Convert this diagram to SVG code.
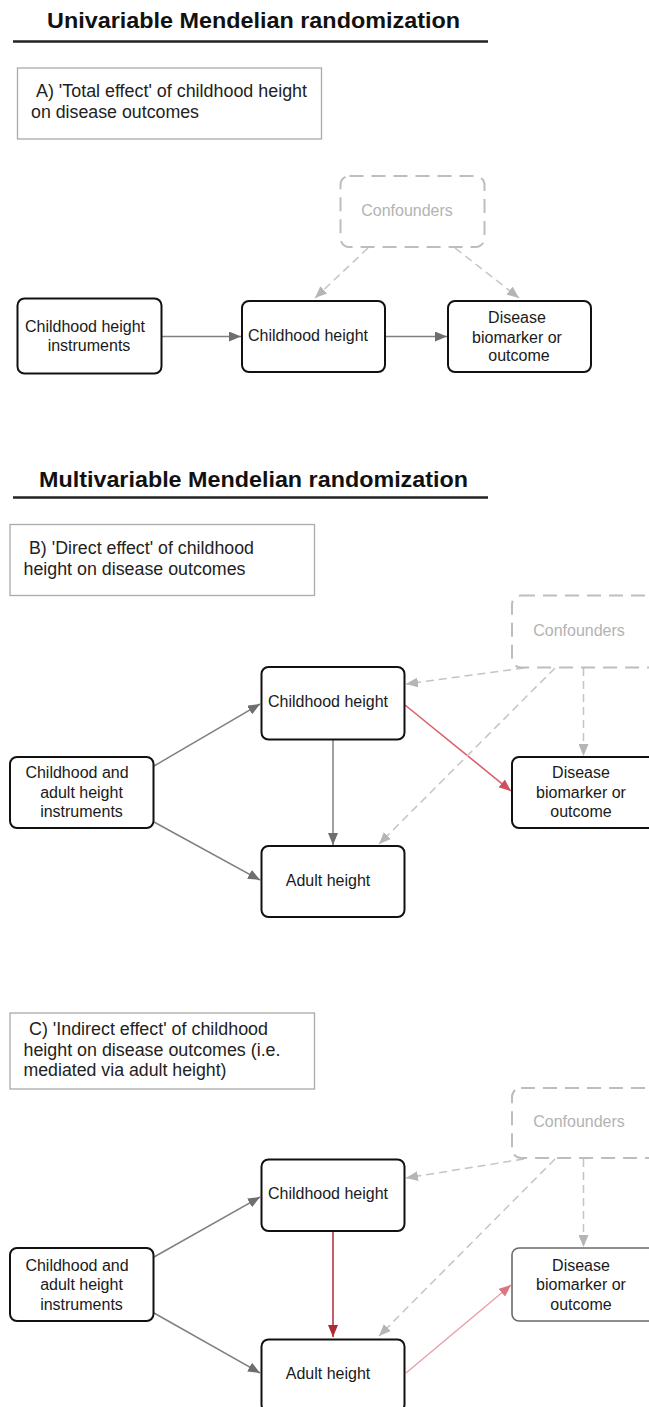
<svg xmlns="http://www.w3.org/2000/svg" width="649" height="1407" viewBox="0 0 649 1407">
<defs>
<style>
.title{font-family:"Liberation Sans",Arial,sans-serif;font-weight:bold;font-size:22px;fill:#111}
.rule{stroke:#222;stroke-width:2.5}
.cap{fill:#fff;stroke:#aaa;stroke-width:1.3}
.capt{font-family:"Liberation Sans",Arial,sans-serif;font-size:17.5px;fill:#222}
.node{fill:#fff;stroke:#111;stroke-width:2}
.nodeg{fill:#fff;stroke:#6a6a6a;stroke-width:1.6}
.conf{fill:#fff;stroke:#bdbdbd;stroke-width:2;stroke-dasharray:14 8}
.lab{font-family:"Liberation Sans",Arial,sans-serif;font-size:16px;fill:#1a1a1a;text-anchor:middle}
.labg{font-family:"Liberation Sans",Arial,sans-serif;font-size:16px;fill:#b3b3b3;text-anchor:middle}
.sol{fill:none;stroke:#808080;stroke-width:1.5;marker-end:url(#ag)}
.dash{fill:none;stroke:#c4c4c4;stroke-width:1.5;stroke-dasharray:8 5;marker-end:url(#al)}
.red{fill:none;stroke:#d9606d;stroke-width:1.6;marker-end:url(#ar)}
.redd{fill:none;stroke:#b83541;stroke-width:1.6;marker-end:url(#ard)}
.redl{fill:none;stroke:#e6a0a6;stroke-width:1.4;marker-end:url(#arl)}
</style>
<marker id="ag" viewBox="0 0 12 10" refX="12" refY="5" markerWidth="12" markerHeight="10" markerUnits="userSpaceOnUse" orient="auto"><path d="M0,0 L12,5 L0,10 z" fill="#6e6e6e"/></marker>
<marker id="al" viewBox="0 0 12 10" refX="12" refY="5" markerWidth="12" markerHeight="10" markerUnits="userSpaceOnUse" orient="auto"><path d="M0,0 L12,5 L0,10 z" fill="#b5b5b5"/></marker>
<marker id="ar" viewBox="0 0 12 10" refX="12" refY="5" markerWidth="12" markerHeight="10" markerUnits="userSpaceOnUse" orient="auto"><path d="M0,0 L12,5 L0,10 z" fill="#d24f5d"/></marker>
<marker id="ard" viewBox="0 0 12 10" refX="12" refY="5" markerWidth="12" markerHeight="10" markerUnits="userSpaceOnUse" orient="auto"><path d="M0,0 L12,5 L0,10 z" fill="#b02a36"/></marker>
<marker id="arl" viewBox="0 0 12 10" refX="12" refY="5" markerWidth="12" markerHeight="10" markerUnits="userSpaceOnUse" orient="auto"><path d="M0,0 L12,5 L0,10 z" fill="#dc7580"/></marker>
</defs>
<rect width="649" height="1407" fill="#fff"/>

<!-- Headings -->
<g id="heading-univariable">
<text class="title" x="47" y="28" textLength="413" lengthAdjust="spacingAndGlyphs">Univariable Mendelian randomization</text>
<line class="rule" x1="13" y1="41.5" x2="488" y2="41.5"/>
</g>
<g id="heading-multivariable">
<text class="title" x="39" y="486.5" textLength="429" lengthAdjust="spacingAndGlyphs">Multivariable Mendelian randomization</text>
<line class="rule" x1="13" y1="497.5" x2="488" y2="497.5"/>
</g>

<!-- Captions -->
<g id="caption-a">
<rect class="cap" x="17.5" y="68" width="304" height="71"/>
<text class="capt" x="36" y="97" textLength="271" lengthAdjust="spacingAndGlyphs">A) 'Total effect' of childhood height</text>
<text class="capt" x="31" y="118" textLength="168" lengthAdjust="spacingAndGlyphs">on disease outcomes</text>
</g>
<g id="caption-b">
<rect class="cap" x="10" y="524.5" width="304.5" height="71"/>
<text class="capt" x="29" y="554" textLength="225" lengthAdjust="spacingAndGlyphs">B) 'Direct effect' of childhood</text>
<text class="capt" x="23.5" y="574.5" textLength="222" lengthAdjust="spacingAndGlyphs">height on disease outcomes</text>
</g>
<g id="caption-c">
<rect class="cap" x="10" y="1013" width="304.5" height="76"/>
<text class="capt" x="29" y="1035" textLength="239" lengthAdjust="spacingAndGlyphs">C) 'Indirect effect' of childhood</text>
<text class="capt" x="23.5" y="1055.5" textLength="257" lengthAdjust="spacingAndGlyphs">height on disease outcomes (i.e.</text>
<text class="capt" x="23.5" y="1076" textLength="203" lengthAdjust="spacingAndGlyphs">mediated via adult height)</text>
</g>

<!-- Connectors -->
<g id="connectors">
<!-- Panel A -->
<path class="sol" d="M161.5,336.5 L241,336.5"/>
<path class="sol" d="M385,336.5 L447,336.5"/>
<path class="dash" d="M368,248 L315,298"/>
<path class="dash" d="M455,248 L519,298"/>
<!-- Panel B -->
<path class="sol" d="M154,766 L260,704"/>
<path class="sol" d="M154,822 L260,880"/>
<path class="sol" d="M333,740 L333,845"/>
<path class="red" d="M405,705 L511,791"/>
<path class="dash" d="M524,668 L406,684"/>
<path class="dash" d="M555,668 L379,844"/>
<path class="dash" d="M583.5,668 L583.5,756"/>
<!-- Panel C -->
<path class="sol" d="M154,1257 L260,1197"/>
<path class="sol" d="M154,1313 L260,1373"/>
<path class="redd" d="M333,1231 L333,1337"/>
<path class="redl" d="M406,1373 L511,1285"/>
<path class="dash" d="M524,1159 L406,1178"/>
<path class="dash" d="M555,1159 L379,1336"/>
<path class="dash" d="M583.5,1159 L583.5,1247"/>
</g>

<!-- Panel A nodes -->
<g id="a-confounders">
<rect class="conf" x="340.5" y="176" width="144" height="71" rx="9"/>
<text class="labg" x="407" y="216">Confounders</text>
</g>
<g id="a-instruments">
<rect class="node" x="17.5" y="298.5" width="144" height="75" rx="7"/>
<text class="lab" x="85" y="332">Childhood height</text>
<text class="lab" x="89" y="350.5">instruments</text>
</g>
<g id="a-childhood">
<rect class="node" x="242" y="301" width="143" height="71" rx="7"/>
<text class="lab" x="308" y="341">Childhood height</text>
</g>
<g id="a-disease">
<rect class="node" x="448" y="301" width="143" height="71" rx="7"/>
<text class="lab" x="517" y="323">Disease</text>
<text class="lab" x="517" y="342.5">biomarker or</text>
<text class="lab" x="519" y="361">outcome</text>
</g>

<!-- Panel B nodes -->
<g id="b-confounders">
<rect class="conf" x="512" y="595.5" width="146" height="72" rx="9"/>
<text class="labg" x="579" y="636">Confounders</text>
</g>
<g id="b-childhood">
<rect class="node" x="261.5" y="667" width="143" height="72.5" rx="7"/>
<text class="lab" x="328" y="707">Childhood height</text>
</g>
<g id="b-instruments">
<rect class="node" x="10" y="757" width="143.5" height="71" rx="7"/>
<text class="lab" x="77" y="778">Childhood and</text>
<text class="lab" x="81.5" y="797.5">adult height</text>
<text class="lab" x="81.5" y="817">instruments</text>
</g>
<g id="b-disease">
<rect class="node" x="512" y="757" width="143" height="71" rx="7"/>
<text class="lab" x="581" y="778">Disease</text>
<text class="lab" x="581" y="797.5">biomarker or</text>
<text class="lab" x="581" y="817">outcome</text>
</g>
<g id="b-adult">
<rect class="node" x="261.5" y="846" width="143" height="71" rx="7"/>
<text class="lab" x="328" y="885.5">Adult height</text>
</g>

<!-- Panel C nodes -->
<g id="c-confounders">
<rect class="conf" x="512" y="1088" width="146" height="70" rx="9"/>
<text class="labg" x="579" y="1127">Confounders</text>
</g>
<g id="c-childhood">
<rect class="node" x="261.5" y="1159.5" width="143" height="71.5" rx="7"/>
<text class="lab" x="328" y="1199">Childhood height</text>
</g>
<g id="c-instruments">
<rect class="node" x="10" y="1248" width="143.5" height="73" rx="7"/>
<text class="lab" x="77" y="1270.5">Childhood and</text>
<text class="lab" x="81.5" y="1290">adult height</text>
<text class="lab" x="81.5" y="1309.5">instruments</text>
</g>
<g id="c-disease">
<rect class="nodeg" x="512" y="1248" width="143" height="73" rx="7"/>
<text class="lab" x="581" y="1270.5">Disease</text>
<text class="lab" x="581" y="1290">biomarker or</text>
<text class="lab" x="581" y="1309.5">outcome</text>
</g>
<g id="c-adult">
<rect class="node" x="261.5" y="1339.5" width="143" height="72" rx="7"/>
<text class="lab" x="328" y="1379">Adult height</text>
</g>
</svg>
